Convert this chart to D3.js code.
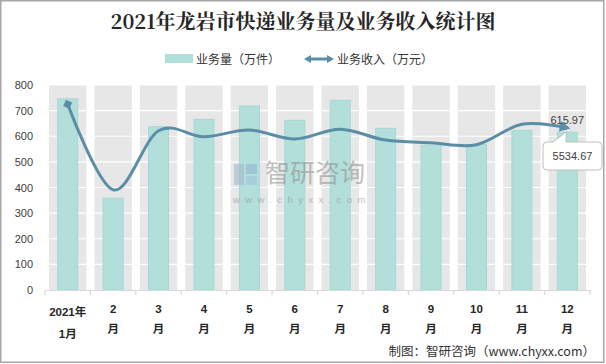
<!DOCTYPE html>
<html><head><meta charset="utf-8">
<script src="https://cdn.jsdelivr.net/npm/d3@7"></script>
<style>
html,body{margin:0;padding:0;background:#fff;}
svg{display:block;}
</style></head>
<body>
<svg id="chart" width="606" height="364"></svg>
<script>
const categories = ["2021年1月","2月","3月","4月","5月","6月","7月","8月","9月","10月","11月","12月"];
const volume = [746, 358, 637, 666, 718, 662, 740, 631, 565, 568, 623, 615.97];
const revenue = [6341, 3420, 5440, 5235, 5463, 5156, 5487, 5120, 5030, 4961, 5658, 5534.67];
const yTicks = [0,100,200,300,400,500,600,700,800];
const labelLines = [["2021年","1月"],["2","月"],["3","月"],["4","月"],["5","月"],["6","月"],["7","月"],["8","月"],["9","月"],["10","月"],["11","月"],["12","月"]];

(function(){
const svg = d3.select("#chart");
const pL = 45, pR = 590, pT = 85, pB = 290;
const x = d3.scaleBand().domain(categories).range([pL, pR]).padding(0);
const y = d3.scaleLinear().domain([0, 800]).range([pB, pT]);
const y2 = d3.scaleLinear().domain([0, 7000]).range([pB, pT]);
const sans = "'Liberation Sans','Noto Sans CJK SC',sans-serif";

// border
svg.append("rect").attr("x",0.75).attr("y",0.75).attr("width",603).attr("height",361.5)
  .attr("fill","#fff").attr("stroke","#a6a6a6").attr("stroke-width",1.5);

// title
svg.append("text").attr("x",303).attr("y",29).attr("text-anchor","middle")
  .attr("font-family","'Noto Serif CJK SC','Liberation Serif','Noto Sans CJK SC',serif")
  .attr("font-weight","bold").attr("font-size",20).attr("fill","#262626")
  .text("2021年龙岩市快递业务量及业务收入统计图");

// legend
const lg = svg.append("g");
lg.append("rect").attr("x",165).attr("y",54).attr("width",28).attr("height",9).attr("fill","#b3dfdb");
lg.append("text").attr("x",196).attr("y",63.5).attr("font-family",sans).attr("font-size",12).attr("fill","#333").text("业务量（万件）");
lg.append("line").attr("x1",309).attr("x2",329).attr("y1",59).attr("y2",59).attr("stroke","#5a8ea6").attr("stroke-width",3);
lg.append("path").attr("d","M304,59 L311,55 L311,63 Z").attr("fill","#5a8ea6");
lg.append("path").attr("d","M334,59 L327,55 L327,63 Z").attr("fill","#5a8ea6");
lg.append("text").attr("x",337).attr("y",63.5).attr("font-family",sans).attr("font-size",12).attr("fill","#333").text("业务收入（万元）");

// gray bands
const inset = 4;
svg.append("g").selectAll("rect").data(categories).join("rect")
  .attr("x", d => x(d) + inset).attr("y", pT)
  .attr("width", x.bandwidth() - 2*inset).attr("height", pB - pT)
  .attr("fill", "#e7e7e7");

// white gridlines
svg.append("g").selectAll("line").data(yTicks.slice(1)).join("line")
  .attr("x1", pL).attr("x2", pR).attr("y1", d => y(d)).attr("y2", d => y(d))
  .attr("stroke", "#fff").attr("stroke-width", 1.2);

// bars
const bw = 20;
svg.append("g").selectAll("rect").data(volume).join("rect")
  .attr("x", (d,i) => x(categories[i]) + x.bandwidth()/2 - bw/2)
  .attr("y", d => y(d)).attr("width", bw).attr("height", d => pB - y(d))
  .attr("fill", "#b3dfdb").attr("stroke", "#a5d8d3").attr("stroke-width", 1);

// y axis labels
svg.append("g").selectAll("text").data(yTicks).join("text")
  .attr("x", 33).attr("y", d => y(d) + 4).attr("text-anchor", "end")
  .attr("font-family", sans).attr("font-size", 11).attr("fill", "#404040").text(d => d);

// x axis
const xAxis = d3.axisBottom(x).tickSize(0).tickFormat("");
const gx = svg.append("g").attr("transform", `translate(0,${pB})`).call(xAxis);
gx.select(".domain").attr("stroke", "#d9d9d9").attr("stroke-width", 1.2);
const bounds = categories.map(c => x(c)).concat([pR]);
svg.append("g").selectAll("line").data(bounds).join("line")
  .attr("x1", d => d).attr("x2", d => d).attr("y1", pB).attr("y2", pB + 5)
  .attr("stroke", "#d9d9d9").attr("stroke-width", 1.2);

// x labels
const xl = svg.append("g");
labelLines.forEach((lines, i) => {
  const cx = x(categories[i]) + x.bandwidth()/2;
  const base = i === 0 ? [316, 338] : [313, 333];
  lines.forEach((t, j) => {
    xl.append("text").attr("x", cx).attr("y", base[j]).attr("text-anchor", "middle")
      .attr("font-family", sans).attr("font-weight", "bold").attr("font-size", 11.5)
      .attr("fill", "#262626").text(t);
  });
});

// watermark
const wm = svg.append("g").attr("opacity", 0.55);
wm.append("rect").attr("x",234).attr("y",164).attr("width",10).attr("height",21).attr("fill","#9fb7cc");
wm.append("rect").attr("x",246).attr("y",164).attr("width",11).attr("height",10).attr("fill","#8fb0d0");
wm.append("rect").attr("x",246).attr("y",176).attr("width",11).attr("height",9).attr("fill","#9fc3dc");
wm.append("text").attr("x",265).attr("y",182).attr("font-family","'Noto Sans CJK SC',sans-serif")
  .attr("font-size",25).attr("fill","#8c8c8c").text("智研咨询");
wm.append("text").attr("x",233).attr("y",203).attr("font-family",sans)
  .attr("font-size",9.5).attr("letter-spacing",5.4).attr("fill","#8c8c8c").text("www.chyxx.com");

// line
const defs = svg.append("defs");
defs.append("marker").attr("id","mstart").attr("viewBox","0 0 10 10").attr("refX",5).attr("refY",5)
  .attr("markerWidth",3.2).attr("markerHeight",3.2).attr("markerUnits","strokeWidth").attr("orient","auto")
  .append("path").attr("d","M0,5 L5,0 L10,5 L5,10 Z").attr("fill","#5a8ea6");
defs.append("marker").attr("id","mend").attr("viewBox","0 0 10 10").attr("refX",7).attr("refY",5)
  .attr("markerWidth",3.6).attr("markerHeight",3.6).attr("markerUnits","strokeWidth").attr("orient","auto")
  .append("path").attr("d","M0,0 L10,5 L0,10 Z").attr("fill","#5a8ea6");
const line = d3.line()
  .x((d,i) => x(categories[i]) + x.bandwidth()/2)
  .y(d => y2(d))
  .curve(d3.curveCardinal.tension(0));
svg.append("path").datum(revenue).attr("d", line)
  .attr("fill","none").attr("stroke","#5a8ea6").attr("stroke-width",3)
  .attr("marker-start","url(#mstart)").attr("marker-end","url(#mend)");

// data labels
const lastI = categories.length - 1;
const lx = x(categories[lastI]) + x.bandwidth()/2;
svg.append("text").attr("x", lx).attr("y", y(volume[lastI]) - 8).attr("text-anchor","middle")
  .attr("font-family", sans).attr("font-size", 11).attr("fill", "#404040").text(volume[lastI]);
const py = y2(revenue[lastI]);
svg.append("path")
  .attr("d", `M547,142 Q543,142 543,146 L543,166 Q543,170 547,170 L598,170 Q602,170 602,166 L602,146 Q602,142 598,142 L566,142 L${lx-1},${py+4} L553,142 Z`)
  .attr("fill","#fff").attr("stroke","#bfbfbf").attr("stroke-width",1);
svg.append("text").attr("x", 572.5).attr("y", 160).attr("text-anchor","middle")
  .attr("font-family", sans).attr("font-size", 11).attr("fill", "#404040").text(revenue[lastI]);

// footer
svg.append("text").attr("x", 595).attr("y", 356).attr("text-anchor","end")
  .attr("font-family","'Noto Sans CJK SC',sans-serif").attr("font-size",12.5).attr("fill","#333")
  .text("制图：智研咨询（www.chyxx.com）");
})();
</script>
</body></html>
